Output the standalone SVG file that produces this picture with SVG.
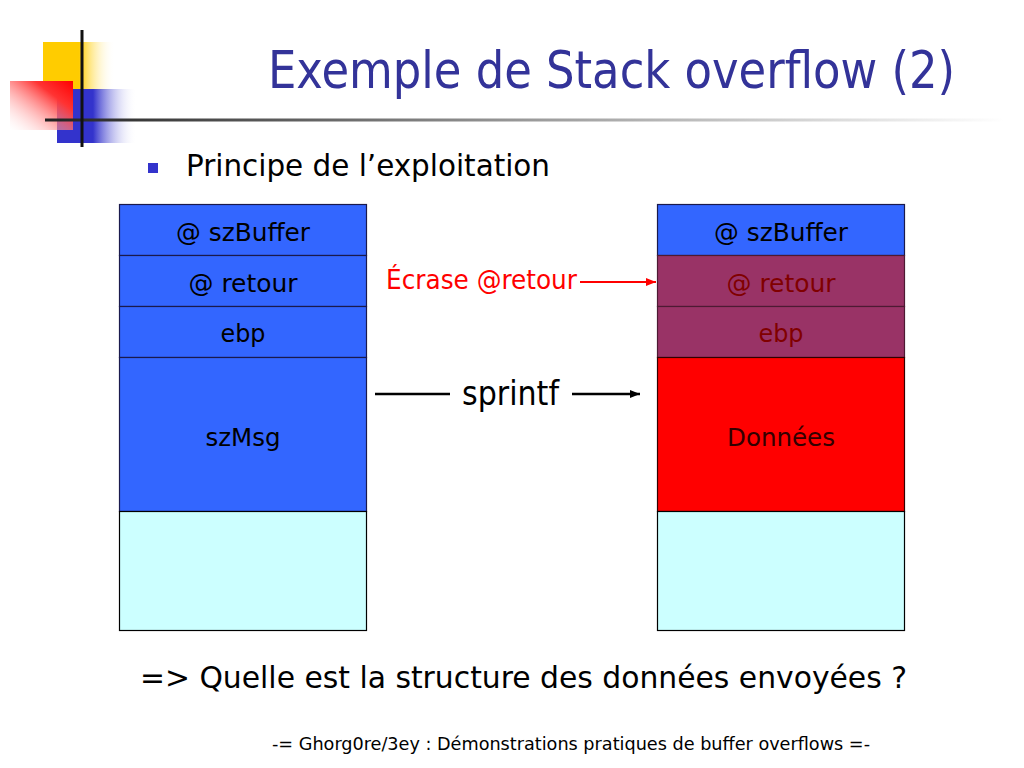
<svg xmlns="http://www.w3.org/2000/svg" width="1024" height="768" viewBox="0 0 1024 768">
<style>
.t{font-family:"DejaVu Sans Condensed","DejaVu Sans","Liberation Sans",sans-serif;}
.cell{font-size:25px;text-anchor:middle;}
.blue{fill:#3366FF;stroke:#1a1a4d;stroke-width:1.2;}
.purple{fill:#993366;stroke:#4d1a33;stroke-width:1.2;}
.red{fill:#FF0000;stroke:#330000;stroke-width:1.2;}
.cyan{fill:#CCFFFF;stroke:#000;stroke-width:1.2;}
</style>
<defs>
<linearGradient id="gy" x1="0" y1="0" x2="1" y2="0">
<stop offset="0" stop-color="#FFCC00"/><stop offset="0.5" stop-color="#FFCC00"/><stop offset="1" stop-color="#FFFFFF" stop-opacity="0"/>
</linearGradient>
<linearGradient id="gb" x1="0" y1="0" x2="1" y2="0">
<stop offset="0" stop-color="#3333CC"/><stop offset="0.45" stop-color="#3333CC"/><stop offset="1" stop-color="#FFFFFF" stop-opacity="0"/>
</linearGradient>
<linearGradient id="gr" x1="1" y1="0" x2="0" y2="1">
<stop offset="0" stop-color="#FF0000"/><stop offset="0.3" stop-color="#FF3333"/><stop offset="1" stop-color="#FFFFFF" stop-opacity="0.2"/>
</linearGradient>
<linearGradient id="gl" x1="0" y1="0" x2="1" y2="0">
<stop offset="0" stop-color="#222"/><stop offset="0.5" stop-color="#999"/><stop offset="1" stop-color="#FFF"/>
</linearGradient>
<marker id="ar" viewBox="0 0 10 10" refX="10" refY="5" markerWidth="5" markerHeight="5" orient="auto" markerUnits="strokeWidth">
<path d="M0,1 L10,5 L0,9 z" fill="#FF0000"/>
</marker>
<marker id="ak" viewBox="0 0 10 10" refX="10" refY="5" markerWidth="4" markerHeight="4" orient="auto" markerUnits="strokeWidth">
<path d="M0,1 L10,5 L0,9 z" fill="#000"/>
</marker>
</defs>
<rect width="1024" height="768" fill="#FFFFFF"/>
<g id="logo">
<rect x="43" y="42" width="72" height="48" fill="url(#gy)"/>
<rect x="57" y="89" width="80" height="54" fill="url(#gb)"/>
<rect x="10" y="81" width="63" height="49" fill="url(#gr)"/>
<rect x="45" y="118.5" width="960" height="3" fill="url(#gl)"/>
<rect x="80.5" y="30" width="3" height="117" fill="#111"/>
</g>
<text id="title" class="t" x="268" y="88" font-size="52" fill="#333399" textLength="687" lengthAdjust="spacingAndGlyphs">Exemple de Stack overflow (2)</text>
<g id="bullet">
<rect x="148" y="163" width="10" height="10" fill="#3333CC"/>
<text class="t" x="186" y="176" font-size="31" fill="#000" textLength="364" lengthAdjust="spacingAndGlyphs">Principe de l’exploitation</text>
</g>
<g id="stack-left">
<rect class="blue" x="119.5" y="204.5" width="247" height="51"/>
<rect class="blue" x="119.5" y="255.5" width="247" height="51"/>
<rect class="blue" x="119.5" y="306.5" width="247" height="51"/>
<rect class="blue" x="119.5" y="357.5" width="247" height="154"/>
<rect class="cyan" x="119.5" y="511.5" width="247" height="119"/>
<text class="t cell" x="243" y="241" textLength="134" lengthAdjust="spacingAndGlyphs">@ szBuffer</text>
<text class="t cell" x="243" y="292" textLength="109" lengthAdjust="spacingAndGlyphs">@ retour</text>
<text class="t cell" x="243" y="342" textLength="45" lengthAdjust="spacingAndGlyphs">ebp</text>
<text class="t cell" x="243" y="446" textLength="75" lengthAdjust="spacingAndGlyphs">szMsg</text>
</g>
<g id="stack-right">
<rect class="blue" x="657.5" y="204.5" width="247" height="51"/>
<rect class="purple" x="657.5" y="255.5" width="247" height="51"/>
<rect class="purple" x="657.5" y="306.5" width="247" height="51"/>
<rect class="red" x="657.5" y="357.5" width="247" height="154"/>
<rect class="cyan" x="657.5" y="511.5" width="247" height="119"/>
<text class="t cell" x="781" y="241" textLength="134" lengthAdjust="spacingAndGlyphs">@ szBuffer</text>
<text class="t cell" x="781" y="292" fill="#800000" textLength="109" lengthAdjust="spacingAndGlyphs">@ retour</text>
<text class="t cell" x="781" y="342" fill="#800000" textLength="45" lengthAdjust="spacingAndGlyphs">ebp</text>
<text class="t cell" x="781" y="446" fill="#330000" textLength="108" lengthAdjust="spacingAndGlyphs">Données</text>
</g>
<g id="connectors">
<line x1="580" y1="282" x2="656" y2="282" stroke="#FF0000" stroke-width="2" marker-end="url(#ar)"/>
<line x1="375" y1="394" x2="450" y2="394" stroke="#000" stroke-width="2.5"/>
<line x1="572" y1="394" x2="640" y2="394" stroke="#000" stroke-width="2.5" marker-end="url(#ak)"/>
</g>
<text id="ecrase" class="t" x="386" y="289" font-size="27" fill="#FF0000" textLength="191" lengthAdjust="spacingAndGlyphs">Écrase @retour</text>
<text id="sprintf" class="t" x="462" y="405" font-size="33" fill="#000" textLength="97" lengthAdjust="spacingAndGlyphs">sprintf</text>
<text id="question" class="t" x="140" y="688" font-size="31" fill="#000" textLength="767" lengthAdjust="spacingAndGlyphs">=&gt; Quelle est la structure des données envoyées ?</text>
<text id="footer" class="t" x="272" y="750" font-size="18" fill="#000" textLength="598" lengthAdjust="spacingAndGlyphs">-= Ghorg0re/3ey : Démonstrations pratiques de buffer overflows =-</text>
</svg>
